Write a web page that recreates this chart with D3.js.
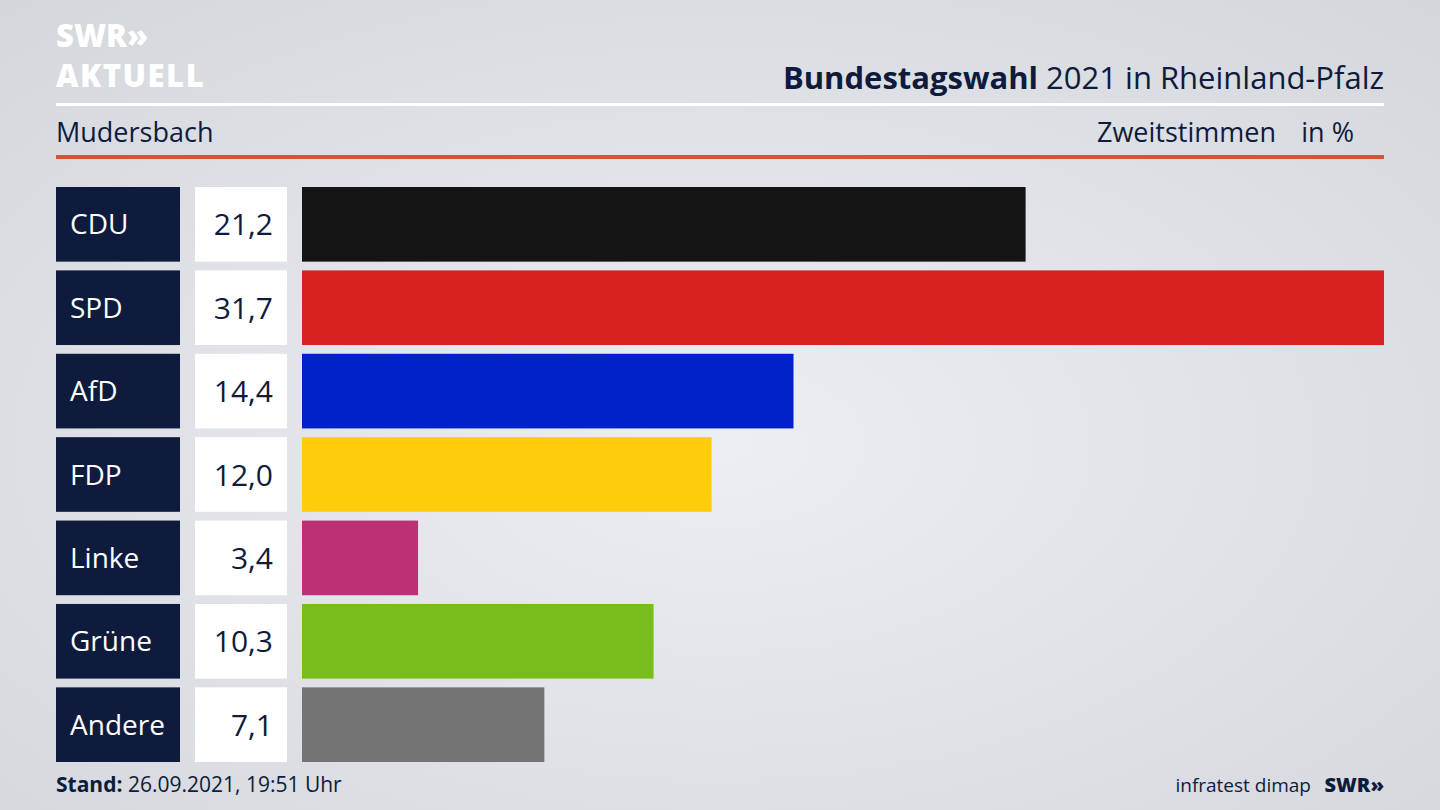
<!DOCTYPE html>
<html><head><meta charset="utf-8">
<script src="https://cdn.jsdelivr.net/npm/d3@7"></script>
<style>body{margin:0;overflow:hidden}svg{display:block}text{font-family:"Open Sans","Noto Sans",sans-serif}</style>
</head><body><svg id="c" width="1440" height="810"></svg>
<script>
const parties = ["CDU","SPD","AfD","FDP","Linke","Grüne","Andere"];
const values = [21.2,31.7,14.4,12.0,3.4,10.3,7.1];
const colors = ["#141414","#d82121","#0022c8","#fecc0a","#be3075","#79bd1c","#747474"];
const svg = d3.select("#c");
const defs = svg.append("defs");
const g = defs.append("radialGradient").attr("id","bg").attr("cx","50%").attr("cy","55%").attr("r","75%");
g.append("stop").attr("offset","0%").attr("stop-color","#eceef2");
g.append("stop").attr("offset","100%").attr("stop-color","#d3d6db");
svg.append("rect").attr("width",1440).attr("height",810).attr("fill","url(#bg)");
// logo
svg.append("text").attr("x",56).attr("y",47).attr("fill","#fff").attr("font-size",31).attr("font-weight",800).attr("letter-spacing",0).text("SWR»");
svg.append("text").attr("x",56).attr("y",87).attr("fill","#fff").attr("font-size",31).attr("font-weight",800).attr("letter-spacing",1.5).text("AKTUELL");
svg.append("rect").attr("x",56).attr("y",103).attr("width",1328).attr("height",3).attr("fill","#fff");
const t = svg.append("text").attr("x",1384).attr("y",89).attr("text-anchor","end").attr("font-size",31).attr("fill","#0e1b3c");
t.append("tspan").attr("font-weight",700).text("Bundestagswahl");
t.append("tspan").text(" 2021 in Rheinland-Pfalz");
svg.append("text").attr("x",56).attr("y",142).attr("font-size",27).attr("fill","#0e1b3c").text("Mudersbach");
svg.append("text").attr("x",1276).attr("y",142).attr("text-anchor","end").attr("font-size",27).attr("fill","#0e1b3c").text("Zweitstimmen");
svg.append("text").attr("x",1354).attr("y",142).attr("text-anchor","end").attr("font-size",27).attr("fill","#0e1b3c").text("in %");
svg.append("rect").attr("x",56).attr("y",155).attr("width",1328).attr("height",4).attr("fill","#d2543c");
const y = d3.scaleBand().domain(parties).range([187,762]).paddingInner(0.105).paddingOuter(0);
const x = d3.scaleLinear().domain([0,31.7]).range([302,1384]);
const row = svg.selectAll(".r").data(parties).enter().append("g");
row.append("rect").attr("x",56).attr("y",d=>y(d)).attr("width",124).attr("height",y.bandwidth()).attr("fill","#0e1b3c");
row.append("text").attr("x",70).attr("y",d=>y(d)+y.bandwidth()/2+10).attr("font-size",28).attr("fill","#fff").text(d=>d);
row.append("rect").attr("x",195).attr("y",d=>y(d)).attr("width",92).attr("height",y.bandwidth()).attr("fill","#fff");
row.append("text").attr("x",273).attr("y",d=>y(d)+y.bandwidth()/2+11).attr("text-anchor","end").attr("font-size",30).attr("fill","#0e1b3c").text((d,i)=>values[i].toFixed(1).replace(".",","));
row.append("rect").attr("x",x(0)).attr("y",d=>y(d)).attr("width",(d,i)=>x(values[i])-x(0)).attr("height",y.bandwidth()).attr("fill",(d,i)=>colors[i]);
const f = svg.append("text").attr("x",56).attr("y",792).attr("font-size",21).attr("fill","#0e1b3c");
f.append("tspan").attr("font-weight",700).text("Stand:");
f.append("tspan").text(" 26.09.2021, 19:51 Uhr");
svg.append("text").attr("x",1311).attr("y",792).attr("text-anchor","end").attr("font-size",19).attr("fill","#0e1b3c").text("infratest dimap");
svg.append("text").attr("x",1384).attr("y",792).attr("text-anchor","end").attr("font-size",20).attr("font-weight",800).attr("fill","#0e1b3c").text("SWR»");
</script></body></html>
